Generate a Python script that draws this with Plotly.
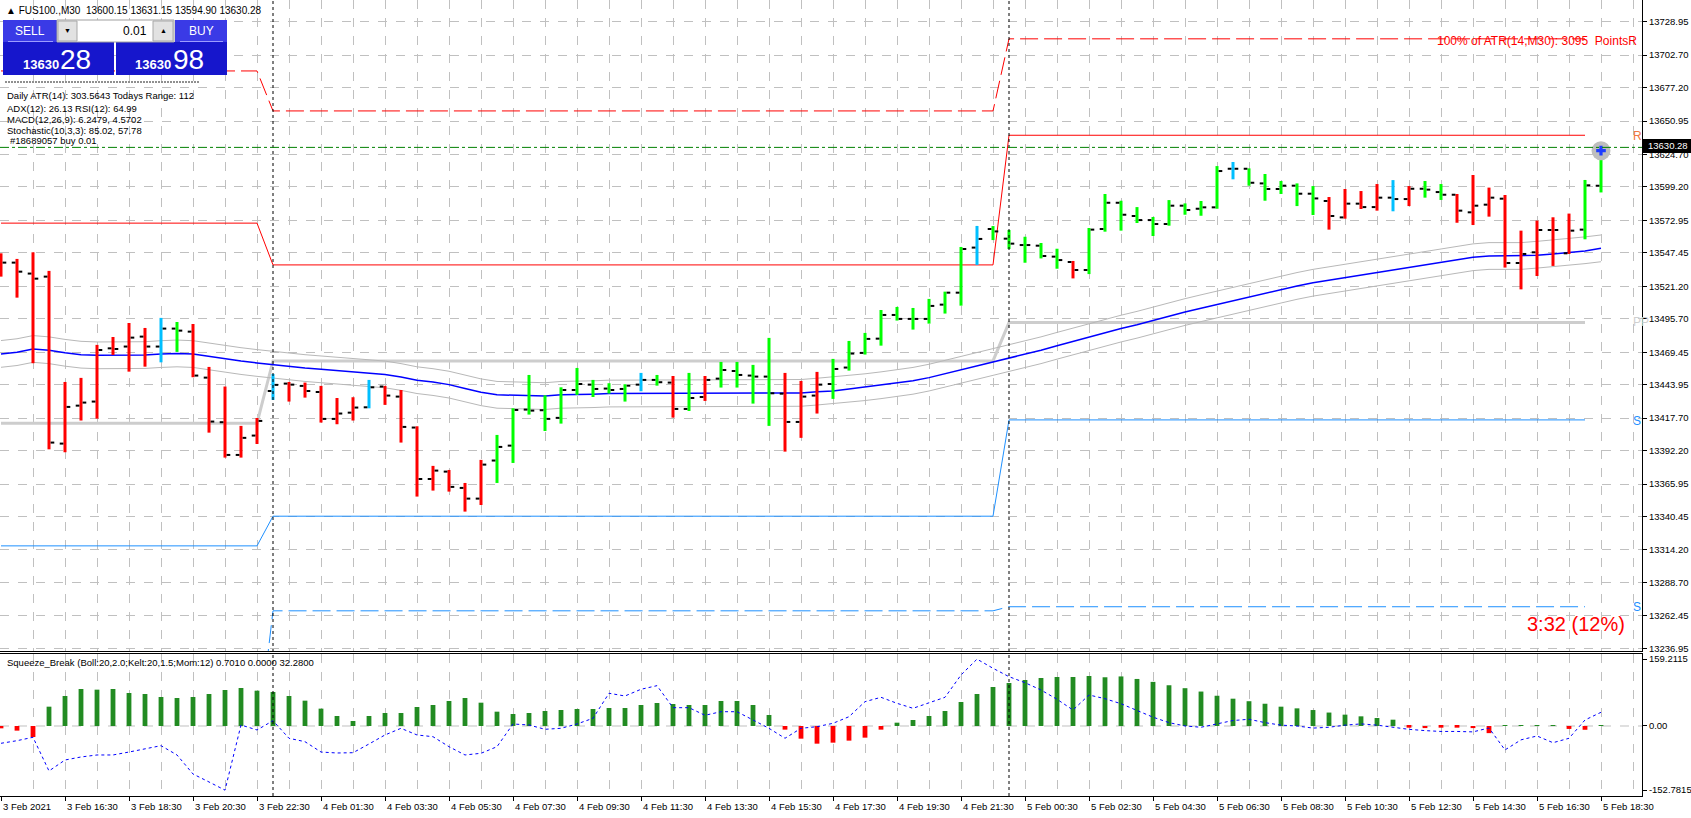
import plotly.graph_objects as go

# Grafico FUS100., M30 - barre OHLC + pivot giornalieri + pannello Squeeze_Break

PLOT_W, PLOT_H = 1642, 796  # area di disegno in pixel (margini r=49, b=22)
GRID = "#C0C0C0"
FONT = "Liberation Sans, Arial, sans-serif"

# --- etichette asse tempo (una ogni 4 barre) ---
time_tick_idx = [0, 4, 8, 12, 16, 20, 24, 28, 32, 36, 40, 44, 48, 52, 56, 60, 64,
                 68, 72, 76, 80, 84, 88, 92, 96, 100]
time_tick_text = ["3 Feb 2021", "3 Feb 16:30", "3 Feb 18:30", "3 Feb 20:30", "3 Feb 22:30",
                  "4 Feb 01:30", "4 Feb 03:30", "4 Feb 05:30", "4 Feb 07:30", "4 Feb 09:30",
                  "4 Feb 11:30", "4 Feb 13:30", "4 Feb 15:30", "4 Feb 17:30", "4 Feb 19:30",
                  "4 Feb 21:30", "5 Feb 00:30", "5 Feb 02:30", "5 Feb 04:30", "5 Feb 06:30",
                  "5 Feb 08:30", "5 Feb 10:30", "5 Feb 12:30", "5 Feb 14:30", "5 Feb 16:30",
                  "5 Feb 18:30"]

price_ticks = [13728.95, 13702.70, 13677.20, 13650.95, 13624.70, 13599.20, 13572.95,
               13547.45, 13521.20, 13495.70, 13469.45, 13443.95, 13417.70, 13392.20,
               13365.95, 13340.45, 13314.20, 13288.70, 13262.45, 13236.95]

# --- barre OHLC ---
bar_open = [13545.0, 13539.8, 13531.2, 13528.8, 13397.7, 13427.5, 13430.7, 13472.5, 13473.9, 13481.7,
            13473.9, 13488.0, 13485.6, 13449.5, 13414.5, 13388.8, 13404.0, 13439.0, 13444.8, 13443.0,
            13438.2, 13417.1, 13422.0, 13426.2, 13442.5, 13434.6, 13410.3, 13369.9, 13375.7, 13362.9,
            13354.5, 13384.4, 13396.1, 13424.4, 13423.9, 13417.9, 13439.8, 13444.0, 13440.9, 13440.6,
            13444.0, 13447.7, 13445.6, 13424.9, 13434.3, 13448.7, 13454.7, 13451.1, 13450.3, 13436.9,
            13414.7, 13435.4, 13444.5, 13457.4, 13468.9, 13480.1, 13498.7, 13495.6, 13495.6, 13506.8,
            13516.2, 13551.6, 13566.2, 13558.6, 13553.6, 13553.1, 13544.5, 13540.3, 13534.0, 13566.2,
            13586.8, 13576.4, 13573.2, 13570.1, 13584.5, 13582.1, 13583.2, 13613.5, 13613.5, 13602.0,
            13597.6, 13600.2, 13593.9, 13588.2, 13575.3, 13586.1, 13583.4, 13590.8, 13589.7, 13597.8,
            13595.2, 13593.1, 13579.3, 13585.3, 13590.0, 13539.5, 13547.9, 13565.4, 13547.1, 13565.7,
            13600.15]
bar_high = [13547.1, 13542.7, 13547.9, 13533.3, 13446.1, 13449.3, 13475.2, 13481.4, 13492.4, 13488.5,
            13496.4, 13493.2, 13491.6, 13457.9, 13442.5, 13411.6, 13417.8, 13452.4, 13446.1, 13445.6,
            13443.0, 13433.5, 13434.1, 13447.7, 13443.0, 13439.8, 13411.3, 13380.2, 13377.0, 13366.8,
            13384.9, 13404.5, 13425.4, 13451.6, 13435.6, 13441.9, 13457.1, 13447.7, 13445.1, 13444.3,
            13453.2, 13451.6, 13450.8, 13453.2, 13450.8, 13461.8, 13461.8, 13459.5, 13480.7, 13453.2,
            13446.9, 13454.0, 13464.2, 13478.3, 13484.6, 13502.6, 13505.0, 13504.2, 13511.3, 13517.0,
            13552.1, 13568.6, 13568.5, 13565.4, 13560.1, 13555.2, 13550.7, 13541.1, 13567.0, 13593.7,
            13588.4, 13583.4, 13575.6, 13588.9, 13586.3, 13588.2, 13615.6, 13618.8, 13613.8, 13609.4,
            13603.9, 13602.0, 13599.9, 13591.3, 13597.6, 13596.0, 13601.5, 13604.6, 13599.9, 13603.9,
            13601.5, 13593.7, 13608.6, 13598.7, 13592.9, 13564.9, 13572.8, 13575.4, 13578.3, 13604.7,
            13631.15]
bar_low = [13528.8, 13512.3, 13460.8, 13393.2, 13390.9, 13415.8, 13417.3, 13467.3, 13454.2, 13458.1,
           13461.5, 13469.7, 13449.8, 13406.3, 13386.7, 13386.7, 13397.4, 13432.0, 13430.7, 13433.8,
           13414.2, 13412.9, 13415.8, 13425.4, 13428.1, 13398.5, 13356.1, 13360.8, 13360.0, 13344.3,
           13349.5, 13366.8, 13382.5, 13420.5, 13407.6, 13413.4, 13435.9, 13434.3, 13437.0, 13430.7,
           13438.8, 13443.2, 13418.1, 13423.3, 13431.2, 13441.7, 13441.7, 13429.1, 13411.6, 13391.4,
           13402.2, 13421.3, 13432.8, 13455.0, 13467.6, 13474.6, 13494.3, 13487.2, 13491.9, 13499.8,
           13506.0, 13538.0, 13557.5, 13550.5, 13539.7, 13543.1, 13535.0, 13527.4, 13530.8, 13564.1,
           13564.9, 13570.9, 13560.7, 13568.8, 13577.4, 13576.6, 13582.1, 13605.2, 13600.2, 13588.4,
           13593.7, 13584.2, 13577.2, 13565.7, 13574.3, 13581.9, 13580.6, 13580.1, 13584.2, 13590.8,
           13589.0, 13571.1, 13569.3, 13575.9, 13535.9, 13518.8, 13529.3, 13537.2, 13546.6, 13558.1,
           13594.90]
bar_close = [13539.8, 13532.7, 13527.2, 13398.5, 13426.5, 13429.9, 13471.2, 13472.0, 13480.9, 13473.9,
             13488.0, 13486.4, 13451.1, 13415.0, 13388.8, 13402.2, 13415.5, 13443.8, 13444.0, 13439.0,
             13417.1, 13421.3, 13426.0, 13441.9, 13435.4, 13410.8, 13369.9, 13376.5, 13363.7, 13354.5,
             13381.2, 13395.1, 13424.1, 13423.6, 13417.1, 13439.8, 13444.5, 13440.6, 13439.8, 13443.2,
             13447.7, 13445.9, 13424.9, 13433.5, 13447.7, 13455.5, 13451.6, 13450.3, 13437.2, 13414.7,
             13434.6, 13444.0, 13456.3, 13468.4, 13479.9, 13498.7, 13495.6, 13495.6, 13505.8, 13516.2,
             13550.5, 13558.4, 13564.3, 13554.7, 13553.6, 13545.0, 13541.8, 13534.0, 13565.7, 13586.8,
             13577.4, 13573.2, 13570.1, 13584.5, 13581.1, 13583.2, 13611.7, 13613.5, 13602.5, 13597.6,
             13600.2, 13593.9, 13590.2, 13576.4, 13586.1, 13583.4, 13590.8, 13589.7, 13597.8, 13597.1,
             13593.1, 13580.6, 13584.5, 13590.8, 13539.5, 13546.6, 13565.4, 13565.4, 13564.9, 13600.5,
             13630.28]
# colore della barra dato dall'indicatore: r = ribasso, g = rialzo, c = neutro
bar_state = ("rrrrrrrrrr" "cg" "rrrrr" "c" "rrrrr" "c" "rrrrrrr" "ggggggggg" "cgrgr" "gggg"
             "rrr" "ggggggggg" "c" "ggggg" "r" "ggggggggg" "c" "ggggg" "rrrr" "c" "r" "gg"
             "rrrrrrrr" "gg")

# --- media mobile e bande ---
ma_mid = [13468.1, 13469.5, 13472.0, 13471.0, 13469.0, 13467.5, 13467.0, 13467.0, 13467.0, 13467.2,
          13468.0, 13468.5, 13468.0, 13466.0, 13464.0, 13462.5, 13461.0, 13459.5, 13458.0, 13457.0,
          13456.0, 13455.0, 13454.0, 13453.0, 13452.0, 13450.0, 13447.5, 13446.0, 13444.0, 13441.0,
          13438.0, 13436.0, 13435.5, 13435.0, 13435.0, 13436.0, 13436.0, 13436.5, 13437.0, 13437.0,
          13437.2, 13437.2, 13437.5, 13437.5, 13437.2, 13437.0, 13437.0, 13437.0, 13437.5, 13437.5,
          13437.5, 13438.5, 13439.0, 13440.5, 13442.0, 13443.5, 13445.0, 13447.0, 13449.5, 13452.5,
          13455.5, 13459.0, 13462.0, 13465.0, 13468.0, 13471.0, 13474.5, 13478.0, 13481.0, 13484.5,
          13488.0, 13491.0, 13494.5, 13498.0, 13501.0, 13504.0, 13507.0, 13510.0, 13513.0, 13516.0,
          13519.0, 13521.5, 13524.0, 13526.0, 13528.0, 13530.0, 13532.0, 13534.0, 13536.0, 13538.0,
          13540.0, 13542.0, 13544.0, 13545.0, 13545.0, 13545.0, 13545.5, 13546.5, 13547.5, 13549.0,
          13551.0]
ma_upper = [13478.6, 13480.0, 13482.5, 13481.5, 13479.5, 13478.0, 13477.5, 13477.5, 13477.5, 13477.7,
            13478.5, 13479.0, 13478.5, 13476.5, 13474.5, 13473.0, 13471.5, 13470.0, 13468.5, 13467.5,
            13466.5, 13465.5, 13464.5, 13463.5, 13462.5, 13460.5, 13458.0, 13456.5, 13454.5, 13451.5,
            13448.5, 13446.5, 13446.0, 13445.5, 13445.5, 13446.5, 13446.5, 13447.0, 13447.5, 13447.5,
            13447.7, 13447.7, 13448.0, 13448.0, 13447.7, 13447.5, 13447.5, 13447.5, 13448.0, 13448.0,
            13448.0, 13449.0, 13450.0, 13451.0, 13452.5, 13454.0, 13455.5, 13457.5, 13460.0, 13463.0,
            13466.0, 13469.5, 13472.5, 13475.5, 13478.5, 13481.5, 13485.0, 13488.5, 13491.5, 13495.0,
            13498.5, 13501.5, 13505.0, 13508.5, 13511.5, 13514.5, 13517.5, 13520.5, 13523.5, 13526.5,
            13529.5, 13532.0, 13534.5, 13536.5, 13538.5, 13540.5, 13542.5, 13544.5, 13546.5, 13548.5,
            13550.5, 13552.5, 13554.5, 13555.5, 13555.5, 13555.5, 13556.5, 13557.5, 13558.5, 13560.0,
            13561.5]
ma_lower = [13457.6, 13459.0, 13461.5, 13460.5, 13458.5, 13457.0, 13456.5, 13456.5, 13456.5, 13456.7,
            13457.5, 13458.0, 13457.5, 13455.5, 13453.5, 13452.0, 13450.5, 13449.0, 13447.5, 13446.5,
            13445.5, 13444.5, 13443.5, 13442.5, 13441.5, 13439.5, 13437.0, 13435.5, 13433.5, 13430.5,
            13427.5, 13425.5, 13425.0, 13424.5, 13424.5, 13425.5, 13425.5, 13426.0, 13426.5, 13426.5,
            13426.7, 13426.7, 13427.0, 13427.0, 13426.7, 13426.5, 13426.5, 13426.5, 13427.0, 13427.0,
            13427.0, 13428.0, 13429.0, 13430.0, 13431.5, 13433.0, 13434.5, 13436.5, 13439.0, 13442.0,
            13445.0, 13448.5, 13451.5, 13454.5, 13457.5, 13460.5, 13464.0, 13467.5, 13470.5, 13474.0,
            13477.5, 13480.5, 13484.0, 13487.5, 13490.5, 13493.5, 13496.5, 13499.5, 13502.5, 13505.5,
            13508.5, 13511.0, 13513.5, 13515.5, 13517.5, 13519.5, 13521.5, 13523.5, 13525.5, 13527.5,
            13529.5, 13531.5, 13533.5, 13534.5, 13534.5, 13534.5, 13535.5, 13536.5, 13537.5, 13539.0,
            13540.5]

# --- livelli pivot giornalieri (3, 4, 5 Feb) ---
day_first = [0, 17, 63]
day_last = [16, 62, 99]
level_r2 = [13690.3, 13658.9, 13715.5]
level_r1 = [13570.8, 13538.0, 13639.8]
level_pp = [13413.7, 13462.6, 13492.7]
level_s1 = [13317.4, 13340.7, 13416.3]
level_s2 = [13160.0, 13266.4, 13269.6]

last_price = 13630.28
trade_bar, trade_price = 100, 13627.7

# --- pannello Squeeze_Break ---
squeeze_hist = [-5.6, -11.1, -26.2, 46.0, 71.4, 88.1, 86.5, 88.1, 78.6, 76.2,
                69.0, 66.7, 69.0, 76.2, 85.7, 90.5, 84.1, 81.0, 71.4, 60.3,
                41.3, 23.8, 11.9, 23.8, 31.0, 31.0, 45.2, 50.0, 59.5, 66.7,
                55.5, 34.1, 28.6, 31.0, 35.7, 38.1, 40.5, 40.5, 42.9, 42.9,
                50.0, 54.8, 52.4, 50.0, 50.0, 59.5, 59.5, 50.0, 26.2, -8.7,
                -30.2, -42.1, -39.7, -34.9, -27.8, -8.7, 7.9, 14.3, 23.8, 35.7,
                57.1, 76.2, 92.9, 102.4, 109.5, 114.3, 116.7, 116.7, 119.0, 116.0,
                118.0, 112.0, 105.0, 97.0, 90.0, 82.0, 72.0, 65.0, 59.0, 53.0,
                46.0, 42.0, 38.0, 32.0, 27.0, 23.0, 19.0, 15.0, -4.0, -5.0,
                -4.0, -4.0, -5.0, -17.0, 2.0, 2.0, 2.0, 2.0, -7.0, -9.0,
                2.0]
squeeze_mom = [-41.2, -35.0, -26.9, -107.1, -81.0, -73.8, -69.0, -69.0, -62.0, -54.8,
               -46.9, -69.0, -114.3, -133.3, -152.78, 2.4, -9.5, 12.6, -29.3, -37.4,
               -62.0, -64.3, -63.6, -42.9, -21.4, -5.5, -21.4, -25.5, -49.3, -69.0,
               -65.0, -49.3, 4.8, 2.4, -7.9, -5.5, 4.8, 18.3, 77.9, 71.4,
               87.4, 96.0, 43.6, 43.6, 25.5, 34.0, 34.0, 14.3, -5.5, -29.3,
               -5.5, -1.7, 6.4, 22.1, 57.9, 68.3, 54.0, 42.1, 55.5, 68.3,
               121.4, 159.21, 137.4, 117.4, 103.1, 85.7, 63.6, 38.1, 73.8, 65.0,
               53.0, 37.0, 21.0, 8.0, 0.0, -3.0, 5.0, 13.0, 16.0, 8.0,
               2.0, 0.0, -5.0, -3.0, 2.0, 5.0, 2.0, -3.0, -8.0, -11.0,
               -13.0, -13.0, -14.0, -4.8, -57.0, -33.0, -23.8, -39.8, -29.3, 14.3,
               32.6]
squeeze_ticks = [159.2115, 0.0, -152.7815]


def px(x):
    return x / PLOT_W


def py(y):
    return 1 - y / PLOT_H


idx = list(range(len(bar_close)))
fig = go.Figure()


def level_series(levels):
    xs, ys = [], []
    for d in range(len(levels)):
        for i in range(day_first[d], day_last[d] + 1):
            xs.append(i)
            ys.append(levels[d])
    return xs, ys


# pivot PP (grigio spesso) sotto tutto
xs, ys = level_series(level_pp)
fig.add_trace(go.Scatter(x=xs, y=ys, mode="lines", line=dict(color="#CDCDCD", width=3),
                         hoverinfo="skip"))

# bande e media
for serie, col, w in [(ma_upper, "#B8B8B8", 1), (ma_lower, "#B8B8B8", 1), (ma_mid, "#0000FF", 1.5)]:
    fig.add_trace(go.Scatter(x=idx, y=serie, mode="lines", line=dict(color=col, width=w),
                             hoverinfo="skip"))

# resistenze / supporti
for levels, col, dash in [(level_r1, "#FF0000", "solid"), (level_r2, "#FF0000", "18px,6px"),
                          (level_s1, "#1E90FF", "solid"), (level_s2, "#1E90FF", "18px,6px")]:
    xs, ys = level_series(levels)
    fig.add_trace(go.Scatter(x=xs, y=ys, mode="lines", line=dict(color=col, width=1, dash=dash),
                             hoverinfo="skip"))

# barre verticali per colore
state_color = {"r": "#FF0000", "g": "#00FF00", "c": "#00BFFF"}
for st, col in state_color.items():
    xs, ys = [], []
    for i in idx:
        if bar_state[i] == st:
            xs += [i, i, None]
            ys += [bar_low[i], bar_high[i], None]
    fig.add_trace(go.Scatter(x=xs, y=ys, mode="lines", line=dict(color=col, width=3),
                             hoverinfo="skip"))

# tacche open (sinistra) e close (destra)
tx, ty = [], []
for i in idx:
    tx += [i - 0.33, i - 0.1, None, i + 0.1, i + 0.33, None]
    ty += [bar_open[i], bar_open[i], None, bar_close[i], bar_close[i], None]
fig.add_trace(go.Scatter(x=tx, y=ty, mode="lines", line=dict(color="black", width=2),
                         hoverinfo="skip"))

# ordine aperto
fig.add_trace(go.Scatter(x=[trade_bar], y=[trade_price], mode="markers",
                         marker=dict(symbol="circle", size=19, color="#BEBEBE"), hoverinfo="skip"))
fig.add_trace(go.Scatter(x=[trade_bar], y=[trade_price], mode="markers",
                         marker=dict(symbol="cross", size=8, color="#1E3CFF"), hoverinfo="skip"))

# pannello inferiore
fig.add_trace(go.Bar(x=idx, y=squeeze_hist, width=0.3, xaxis="x2", yaxis="y2",
                     marker=dict(color=["#228B22" if v >= 0 else "#FF0000" for v in squeeze_hist],
                                 line=dict(width=0)), hoverinfo="skip"))
fig.add_trace(go.Scatter(x=idx, y=squeeze_mom, mode="lines", xaxis="x2", yaxis="y2",
                         line=dict(color="#0000FF", width=1, dash="dot"), hoverinfo="skip"))

shapes = []
# linea zero pannello inferiore
shapes.append(dict(type="line", xref="paper", yref="y2", x0=0, x1=1, y0=0, y1=0,
                   line=dict(color=GRID, width=1, dash="dash"), layer="below"))
# separatori di giorno
for d in day_first[1:]:
    shapes.append(dict(type="line", xref="x", yref="paper", x0=d, x1=d, y0=0, y1=1,
                       line=dict(color="black", width=1, dash="dot")))
# prezzo corrente
shapes.append(dict(type="line", xref="paper", yref="y", x0=0, x1=1, y0=last_price, y1=last_price,
                   line=dict(color="#008000", width=1, dash="dashdot")))
shapes.append(dict(type="rect", xref="paper", yref="paper", x0=px(1643), x1=px(1691),
                   y0=py(153), y1=py(139), fillcolor="black", line=dict(width=0)))

# pannello SELL / BUY
def rect(x0, y0, x1, y1, fill, line=None):
    shapes.append(dict(type="rect", xref="paper", yref="paper", x0=px(x0), x1=px(x1),
                       y0=py(y1), y1=py(y0), fillcolor=fill,
                       line=dict(color=line or fill, width=1 if line else 0)))

rect(3, 20, 57, 42, "#3A3AE6")
rect(175, 20, 227, 42, "#3A3AE6")
rect(3, 42, 114, 75, "#1616CC")
rect(116, 42, 227, 75, "#1616CC")
rect(57, 20, 174, 42, "white", "#A0A0A0")
rect(58, 21, 77, 41, "#E2E2E2", "#A8A8A8")
rect(153, 21, 173, 41, "#E2E2E2", "#A8A8A8")
for x0, x1 in [(8, 53), (180, 223)]:
    shapes.append(dict(type="line", xref="paper", yref="paper", x0=px(x0), x1=px(x1),
                       y0=py(41.5), y1=py(41.5), line=dict(color="#9C9CFF", width=1)))
# riga tratteggiata sopra le info
shapes.append(dict(type="line", xref="paper", yref="paper", x0=px(5), x1=px(200),
                   y0=py(82), y1=py(82), line=dict(color="#202020", width=1, dash="2px,1px")))

ann = []


def text(x, y, s, size=9.5, color="black", anchor="left", **kw):
    ann.append(dict(x=px(x), y=py(y), xref="paper", yref="paper", text=s, showarrow=False,
                    xanchor=anchor, yanchor="middle", font=dict(size=size, color=color, family=FONT),
                    **kw))


text(4, 10, "▲ FUS100.,M30  13600.15 13631.15 13594.90 13630.28", size=10)
text(30, 31, "SELL", size=12, color="white", anchor="center")
text(201, 31, "BUY", size=12, color="white", anchor="center")
text(149, 31, "0.01", size=12, anchor="right")
text(67.5, 31, "▼", size=7, anchor="center")
text(163, 31, "▲", size=7, anchor="center")
text(21, 64, "<b>13630</b>", size=13, color="white")
text(58, 59, "28", size=28, color="white")
text(133, 64, "<b>13630</b>", size=13, color="white")
text(171, 59, "98", size=28, color="white")
info_lines = ["Daily ATR(14): 303.5643 Todays Range: 112", "ADX(12): 26.13 RSI(12): 64.99",
              "MACD(12,26,9): 6.2479, 4.5702", "Stochastic(10,3,3): 85.02, 57.78",
              "#18689057 buy 0.01"]
for k, (s, yy) in enumerate(zip(info_lines, [96, 108, 119.5, 131, 141])):
    text(5 if k < 4 else 8, yy, s, size=9.5)
text(5, 662, "Squeeze_Break (Boll:20,2.0;Kelt:20,1.5;Mom:12) 0.7010 0.0000 32.2800", size=9.5)
text(1639, 41, "100% of ATR(14,M30): 3095  PointsR", size=12, color="#FF0000", anchor="right")
text(1631, 136, "R", size=12, color="#F07840")
text(1631, 322, "PP", size=12, color="#D0D0D0")
text(1631, 421, "S", size=12, color="#1E90FF")
text(1631, 607, "S", size=12, color="#1E90FF")
text(1576, 624, "3:32 (12%)", size=20, color="#FF0000", anchor="center")
text(1646, 146, "13630.28", size=9.5, color="white")

# etichette tempo allineate a sinistra sulla tacca
for i, s in zip(time_tick_idx, time_tick_text):
    ann.append(dict(x=i, y=py(806), xref="x", yref="paper", text=s, showarrow=False,
                    xanchor="left", yanchor="middle", font=dict(size=9.5, color="black", family=FONT)))

grid_x = dict(tickmode="linear", tick0=0, dtick=4, showgrid=True, gridcolor=GRID, griddash="dash",
              gridwidth=1, minor=dict(tick0=0, dtick=2, showgrid=True, gridcolor=GRID,
                                      griddash="dash", gridwidth=1, ticks=""),
              zeroline=False, showticklabels=False, showline=True, linecolor="black", linewidth=1)

fig.update_layout(
    width=1691, height=818, autosize=False,
    margin=dict(l=0, r=49, t=0, b=22, pad=0),
    paper_bgcolor="white", plot_bgcolor="white", showlegend=False,
    font=dict(family=FONT, size=9.5, color="black"),
    xaxis=dict(domain=[0, 1], anchor="y", range=[-0.0625, 102.5625], ticks="", **grid_x),
    xaxis2=dict(domain=[0, 1], anchor="y2", matches="x", ticks="outside", ticklen=4,
                tickcolor="black", mirror=True, **grid_x),
    yaxis=dict(domain=[145 / PLOT_H, 1], anchor="x", side="right", range=[13234.85, 13746.0],
               tickmode="array", tickvals=price_ticks, ticktext=[f"{v:.2f}" for v in price_ticks],
               ticks="outside", ticklen=4, tickcolor="black", showgrid=True, gridcolor=GRID,
               griddash="dash", zeroline=False, showline=True, linecolor="black", mirror=True,
               automargin=False, tickfont=dict(size=9.5)),
    yaxis2=dict(domain=[0, 142 / PLOT_H], anchor="x2", side="right", range=[-166.7, 171.4],
                tickmode="array", tickvals=squeeze_ticks,
                ticktext=["159.2115", "0.00", "-152.7815"], ticks="outside", ticklen=4,
                tickcolor="black", showgrid=False, zeroline=False, showline=True,
                linecolor="black", mirror=True, automargin=False, tickfont=dict(size=9.5)),
    shapes=shapes, annotations=ann,
)

fig.write_html("out.html", config={"displayModeBar": False},
               post_script="document.body.style.margin='0';"
                           "document.body.style.overflow='hidden';")
